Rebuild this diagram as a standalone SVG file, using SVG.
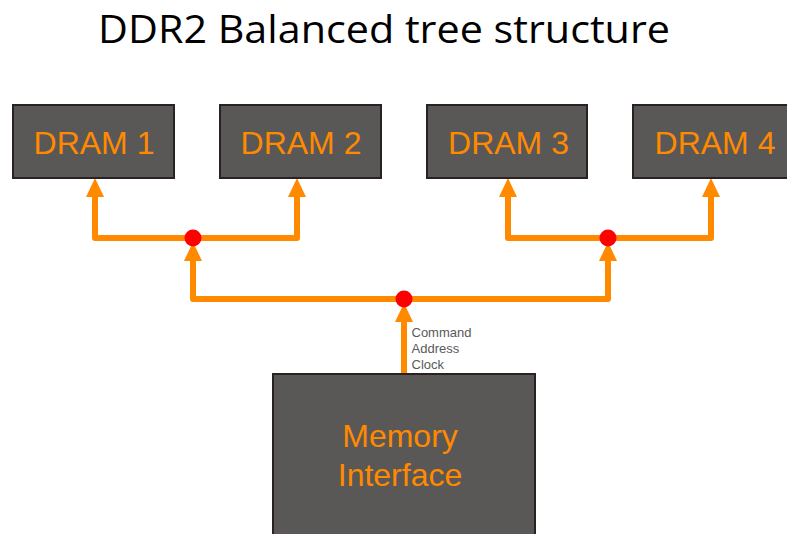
<svg xmlns="http://www.w3.org/2000/svg" width="787" height="534" viewBox="0 0 787 534">
<style>
.box{fill:#5a5857;stroke:#2a2222;stroke-width:2}
.lbl{font-family:"Liberation Sans",Arial,sans-serif;fill:#ff8a00;text-anchor:middle}
.dram{font-size:32px}
.mem{font-size:32px}
.wire{fill:none;stroke:#ff8a00;stroke-width:6;stroke-linejoin:round;marker-end:url(#arr)}
.dot{fill:#ff0000}
.sig{font-family:"Liberation Sans",Arial,sans-serif;font-size:13px;fill:#595959}
</style>
<defs>
<marker id="arr" markerUnits="userSpaceOnUse" markerWidth="20" markerHeight="20" viewBox="0 -10 20 20" refX="0" refY="0" orient="auto">
<path d="M0,-9 L19,0 L0,9 Z" fill="#ff8a00"/>
</marker>
</defs>
<rect width="787" height="534" fill="#ffffff"/>
<text x="384" y="43" font-family="'Open Sans','Noto Sans',sans-serif" font-size="38" fill="#000" text-anchor="middle" textLength="572" lengthAdjust="spacingAndGlyphs">DDR2 Balanced tree structure</text>
<g id="connectors">
<path class="wire" d="M193,238 H95 V197"/>
<path class="wire" d="M193,238 H297 V197"/>
<path class="wire" d="M608,238 H508 V197"/>
<path class="wire" d="M608,238 H711 V197"/>
<path class="wire" d="M404,299 H193 V261"/>
<path class="wire" d="M404,299 H608 V261"/>
<path class="wire" d="M404,373 V322"/>
<circle class="dot" cx="193" cy="238" r="8.5"/>
<circle class="dot" cx="608" cy="238" r="8.5"/>
<circle class="dot" cx="404" cy="299" r="8.5"/>
<text class="sig" x="411.5" y="337">Command</text>
<text class="sig" x="411.5" y="353">Address</text>
<text class="sig" x="411.5" y="369">Clock</text>
</g>
<g id="dram1"><rect class="box" x="13" y="105" width="161" height="73"/><text class="lbl dram" x="94" y="154">DRAM 1</text></g>
<g id="dram2"><rect class="box" x="220" y="105" width="161" height="73"/><text class="lbl dram" x="301" y="154">DRAM 2</text></g>
<g id="dram3"><rect class="box" x="427" y="105" width="160" height="73"/><text class="lbl dram" x="508.5" y="154">DRAM 3</text></g>
<g id="dram4"><rect class="box" x="633" y="105" width="170" height="73"/><text class="lbl dram" x="715" y="154">DRAM 4</text></g>
<g id="memif"><rect class="box" x="273" y="374" width="262" height="200"/><text class="lbl mem" x="400" y="447">Memory</text><text class="lbl mem" x="400" y="486">Interface</text></g>
</svg>
